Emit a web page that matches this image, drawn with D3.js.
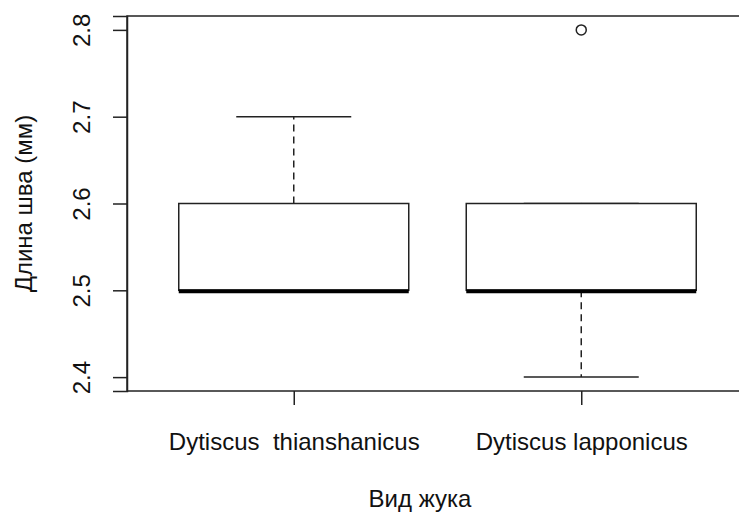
<!DOCTYPE html>
<html>
<head>
<meta charset="utf-8">
<script src="https://cdn.jsdelivr.net/npm/d3@7"></script>
<style>
  body { margin: 0; background: #fff; }
  text { font-family: "Liberation Sans", Arial, sans-serif; fill: #111; }
</style>
</head>
<body>
<script>
// data
const species = ['Dytiscus  thianshanicus', 'Dytiscus lapponicus'];
const whiskerLow = [2.5, 2.4];
const q1 = [2.5, 2.5];
const medians = [2.5, 2.5];
const q3 = [2.6, 2.6];
const whiskerHigh = [2.7, 2.6];
const outliers = [[], [2.8]];
const yTicks = [2.4, 2.5, 2.6, 2.7, 2.8];
const yTitle = 'Длина шва (мм)';
const xTitle = 'Вид жука';

const width = 739;
const height = 512;
const plotLeft = 127, plotTop = 16, plotBottom = 391, plotRight = 748;

const svg = d3.select('body').append('svg')
  .attr('width', width)
  .attr('height', height);

const x = d3.scaleLinear().domain([0.42, 2.58]).range([plotLeft, plotRight]);
const y = d3.scaleLinear().domain([2.384, 2.816]).range([plotBottom, plotTop]);

const stroke = '#222';
const halfBox = 0.4;

const boxes = svg.append('g');
species.forEach((s, i) => {
  const cx = i + 1;
  const g = boxes.append('g');
  // dashed whiskers
  g.append('line')
    .attr('x1', x(cx)).attr('x2', x(cx))
    .attr('y1', y(q3[i])).attr('y2', y(whiskerHigh[i]))
    .attr('stroke', stroke).attr('stroke-width', 1.5)
    .attr('stroke-dasharray', '7,5');
  g.append('line')
    .attr('x1', x(cx)).attr('x2', x(cx))
    .attr('y1', y(q1[i])).attr('y2', y(whiskerLow[i]))
    .attr('stroke', stroke).attr('stroke-width', 1.5)
    .attr('stroke-dasharray', '7,5');
  // staples
  [whiskerLow[i], whiskerHigh[i]].forEach(v => {
    g.append('line')
      .attr('x1', x(cx - halfBox / 2)).attr('x2', x(cx + halfBox / 2))
      .attr('y1', y(v)).attr('y2', y(v))
      .attr('stroke', stroke).attr('stroke-width', 1.5);
  });
  g.append('rect')
    .attr('x', x(cx - halfBox))
    .attr('y', y(q3[i]))
    .attr('width', x(cx + halfBox) - x(cx - halfBox))
    .attr('height', y(q1[i]) - y(q3[i]))
    .attr('fill', '#fff')
    .attr('stroke', stroke).attr('stroke-width', 1.5);
  g.append('line')
    .attr('x1', x(cx - halfBox)).attr('x2', x(cx + halfBox))
    .attr('y1', y(medians[i]) + 1).attr('y2', y(medians[i]) + 1)
    .attr('stroke', '#000').attr('stroke-width', 4);
  g.selectAll('circle')
    .data(outliers[i])
    .enter().append('circle')
    .attr('cx', x(cx))
    .attr('cy', d => y(d))
    .attr('r', 5)
    .attr('fill', 'none')
    .attr('stroke', stroke).attr('stroke-width', 1.5);
});

// frame
svg.append('rect')
  .attr('x', plotLeft).attr('y', plotTop)
  .attr('width', plotRight - plotLeft).attr('height', plotBottom - plotTop)
  .attr('fill', 'none')
  .attr('stroke', stroke).attr('stroke-width', 1.5);

// y axis
const yAxis = svg.append('g').attr('transform', `translate(${plotLeft},0)`)
  .call(d3.axisLeft(y).tickValues(yTicks).tickSize(14).tickFormat(d3.format('.1f')));
yAxis.select('.domain').attr('stroke', stroke).attr('stroke-width', 1.5);
yAxis.selectAll('.tick line').attr('stroke', stroke).attr('stroke-width', 1.5);
yAxis.selectAll('.tick text')
  .attr('x', null).attr('dy', null)
  .attr('transform', 'translate(-37,0) rotate(-90)')
  .attr('text-anchor', 'middle')
  .attr('font-size', 24)
  .style('font-family', '"Liberation Sans", Arial, sans-serif')
  .attr('fill', '#111');

// x axis
const xAxis = svg.append('g').attr('transform', `translate(0,${plotBottom})`)
  .call(d3.axisBottom(x).tickValues([1, 2]).tickSize(14).tickFormat((d, i) => species[i]));
xAxis.select('.domain').remove();
xAxis.selectAll('.tick line').attr('stroke', stroke).attr('stroke-width', 1.5);
xAxis.selectAll('.tick text')
  .attr('y', 59).attr('dy', null)
  .attr('font-size', 24)
  .style('white-space', 'pre')
  .style('font-family', '"Liberation Sans", Arial, sans-serif')
  .attr('fill', '#111');

// axis titles
svg.append('text')
  .attr('transform', `translate(32,${(plotTop + plotBottom) / 2}) rotate(-90)`)
  .attr('text-anchor', 'middle')
  .attr('font-size', 24)
  .text(yTitle);

svg.append('text')
  .attr('x', (plotLeft + 701) / 2 + 6)
  .attr('y', 507)
  .attr('text-anchor', 'middle')
  .attr('font-size', 24)
  .text(xTitle);
</script>
</body>
</html>
